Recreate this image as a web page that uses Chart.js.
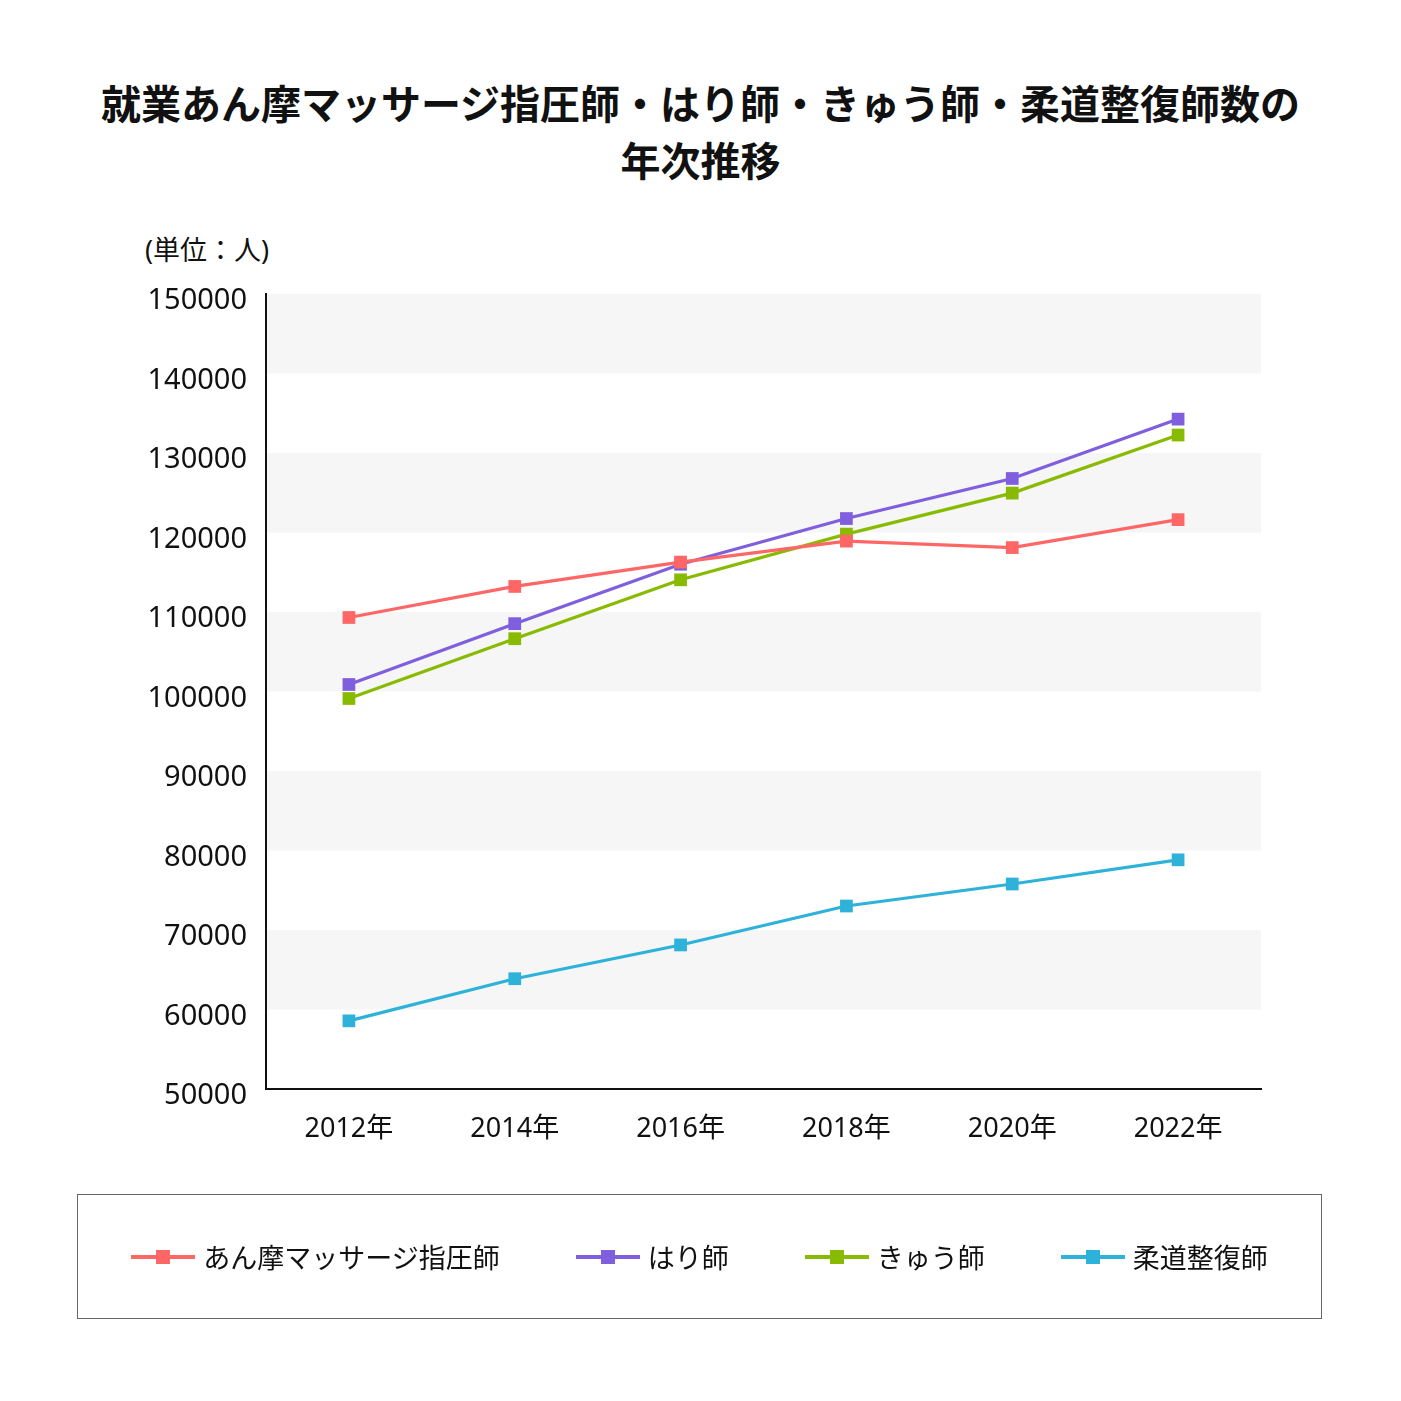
<!DOCTYPE html>
<html lang="ja">
<head>
<meta charset="utf-8">
<script src="https://cdn.jsdelivr.net/npm/chart.js@4"></script>
<style>
  html, body { margin: 0; padding: 0; background: #fff; }
  body { width: 1401px; height: 1401px; position: relative; overflow: hidden;
         font-family: "Noto Sans", "Noto Sans CJK JP", sans-serif; color: #111; }
  #title { position: absolute; left: 0; top: 74px; width: 1401px; text-align: center;
           font-family: "Noto Sans CJK JP", sans-serif;
           font-size: 40px; font-weight: bold; line-height: 57px; }
  #unit { position: absolute; left: 145px; top: 234px; font-size: 27px; line-height: 32px; }
  #chart { position: absolute; left: 0; top: 0; }
  #legend { position: absolute; left: 77px; top: 1194px; width: 1243px; height: 123px;
            border: 1.5px solid #666; display: flex; align-items: center; justify-content: center; gap: 76px; }
  .item { display: flex; align-items: center; font-size: 27px; }
  .mark { position: relative; width: 64px; height: 14px; margin-right: 8px; }
  .mark .ln { position: absolute; left: 0; top: 5px; width: 64px; height: 4px; }
  .mark .sq { position: absolute; left: 25px; top: 0; width: 14px; height: 14px; }
</style>
</head>
<body>
<div id="title">就業あん摩マッサージ指圧師・はり師・きゅう師・柔道整復師数の<br>年次推移</div>
<div id="unit">(単位：人)</div>
<canvas id="chart" width="1401" height="1401"></canvas>
<div id="legend"></div>
<script>
// categories and series
const years = ['2012年', '2014年', '2016年', '2018年', '2020年', '2022年'];
const seriesNames = ['あん摩マッサージ指圧師', 'はり師', 'きゅう師', '柔道整復師'];
const anma = [109309, 113215, 116280, 118916, 118103, 121617];
const hari = [100881, 108537, 116007, 121757, 126798, 134262];
const kyu = [99118, 106642, 114048, 119796, 124956, 132261];
const judo = [58573, 63873, 68120, 73017, 75786, 78827];
const yMin = 50000, yMax = 150000, yStep = 10000;
const colors = ['#ff6666', '#7f5fdd', '#88bb00', '#2eb2d9'];

const FONT = '"Noto Sans", "Noto Sans CJK JP", sans-serif';

// alternate gray bands behind the plot (drawn before the axes)
const bands = {
  id: 'bands',
  beforeDraw(chart) {
    const { ctx, chartArea, scales } = chart;
    const y = scales.y;
    ctx.save();
    ctx.fillStyle = '#f6f6f6';
    y.ticks.forEach((t, i) => {
      if (i % 2 === 1 && t.value < yMax) {
        const top = y.getPixelForValue(t.value + yStep);
        const bot = y.getPixelForValue(t.value);
        ctx.fillRect(chartArea.left, top, chartArea.right - chartArea.left, bot - top);
      }
    });
    ctx.restore();
  }
};

const allData = [anma, hari, kyu, judo];
const datasets = seriesNames.map((name, i) => ({
  label: name,
  data: allData[i],
  borderColor: colors[i],
  backgroundColor: colors[i],
  borderWidth: 3.2,
  pointStyle: 'rect',
  pointRadius: 9,
  pointBorderWidth: 0,
  pointHoverRadius: 9,
  tension: 0
}));

new Chart(document.getElementById('chart').getContext('2d'), {
  type: 'line',
  data: { labels: years, datasets: datasets },
  options: {
    responsive: false,
    animation: false,
    events: [],
    layout: { padding: { left: 126, right: 140, top: 294, bottom: 252 } },
    plugins: { legend: { display: false }, title: { display: false }, tooltip: { enabled: false } },
    scales: {
      x: {
        offset: true,
        grid: { display: false, drawTicks: false },
        border: { display: true, color: '#111', width: 2 },
        ticks: { color: '#111', padding: 24, font: { family: FONT, size: 27 } },
        afterFit(s) { s.height = 60; }
      },
      y: {
        min: yMin, max: yMax,
        grid: { display: false, drawTicks: false },
        border: { display: true, color: '#111', width: 2 },
        ticks: { stepSize: yStep, color: '#111', padding: 19, labelOffset: 7,
                 font: { family: FONT, size: 29 }, callback: v => String(v) },
        afterFit(s) { s.width = 140; }
      }
    }
  },
  plugins: [bands]
});

// legend built from the same arrays
const legend = document.getElementById('legend');
seriesNames.forEach((name, i) => {
  const item = document.createElement('div');
  item.className = 'item';
  item.innerHTML = '<div class="mark"><div class="ln" style="background:' + colors[i] +
    '"></div><div class="sq" style="background:' + colors[i] + '"></div></div><span>' + name + '</span>';
  legend.appendChild(item);
});
</script>
</body>
</html>
